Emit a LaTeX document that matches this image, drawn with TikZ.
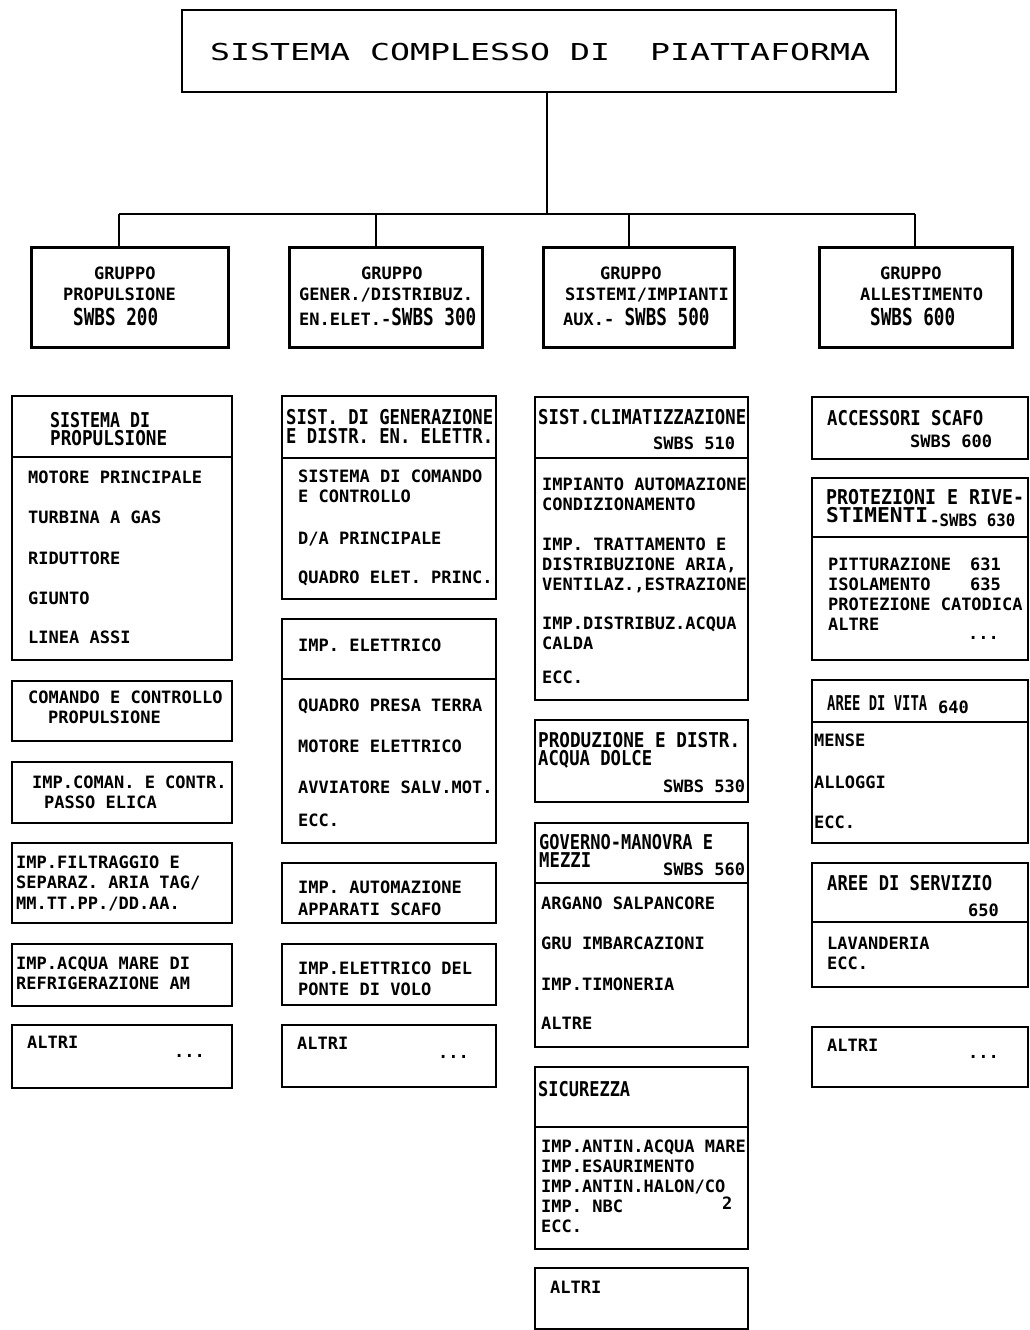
\documentclass[tikz,border=0pt]{standalone}
\usepackage{fontspec}
\usepackage{graphicx}
\newfontfamily\monof{DejaVu Sans Mono}
\newcommand\itf{\monof\bfseries\fontsize{17}{20}\selectfont}
\newcommand\hdw[2]{\resizebox{#1pt}{\height}{\scalebox{1}[1.2]{#2}}}
\newcommand\swbs[1]{\resizebox{85pt}{\height}{\scalebox{1}[1.38]{#1}}}
\newcommand\bx[6][cbox]{\node[#1, minimum width={#4-#3}, minimum height={#6-#5}] (#2) at (#3,#5) {};}
\newcommand\tx[5][it]{\node[#1] (#2) at (#3,#4) {#5};}
\tikzset{
  cbox/.style={draw, line width=1.8pt, inner sep=0, outer sep=0, anchor=north west},
  gbox/.style={draw, line width=3pt, inner sep=0, outer sep=0, anchor=north west},
  tbox/.style={draw, line width=2.4pt, inner sep=0, outer sep=0, anchor=north west},
  it/.style={anchor=base west, inner sep=0, yshift=-6.2pt, font=\itf},
  hd/.style={anchor=base west, inner sep=0, yshift=-7.45pt, font=\itf},
  sw/.style={anchor=base west, inner sep=0, yshift=-8.5pt, font=\itf},
  dv/.style={line width=1.8pt},
  conn/.style={line width=1.8pt},
}
\begin{document}
\begin{tikzpicture}[x=1pt,y=-1pt]
\useasboundingbox (0,0) rectangle (1029,1330);
% top
\bx[tbox]{top}{182}{896}{10}{92}
\node[anchor=base west, inner sep=0] (title) at (210,60.5) {\resizebox{660pt}{\height}{\monof\fontsize{23.3}{28}\selectfont SISTEMA COMPLESSO DI\ \ PIATTAFORMA}};
% groups
\bx[gbox]{g1}{31}{228}{247}{347}
\bx[gbox]{g2}{289}{482}{247}{347}
\bx[gbox]{g3}{543}{734}{247}{347}
\bx[gbox]{g4}{819}{1012}{247}{347}
\coordinate (j) at (547,214);
\coordinate (b1) at (119,214);
\coordinate (b2) at (376,214);
\coordinate (b3) at (629,214);
\coordinate (b4) at (915,214);
\draw[conn] (top.south -| j) -- (j);
\draw[conn] (b1) -- (b4);
\draw[conn] (b1) -- (b1 |- g1.north);
\draw[conn] (b2) -- (b2 |- g2.north);
\draw[conn] (b3) -- (b3 |- g3.north);
\draw[conn] (b4) -- (b4 |- g4.north);
\tx{g1a}{94}{273}{GRUPPO}
\tx{g1b}{63}{294}{PROPULSIONE}
\tx[sw]{g1c}{73}{317}{\swbs{SWBS 200}}
\tx{g2a}{361}{273}{GRUPPO}
\tx{g2b}{299}{294}{GENER./DISTRIBUZ.}
\tx[sw]{g2c}{299}{317}{EN.ELET.-\swbs{SWBS 300}}
\tx{g3a}{600}{273}{GRUPPO}
\tx{g3b}{565}{294}{SISTEMI/IMPIANTI}
\tx[sw]{g3c}{563}{317}{AUX.-\ \swbs{SWBS 500}}
\tx{g4a}{880}{273}{GRUPPO}
\tx{g4b}{860}{294}{ALLESTIMENTO}
\tx[sw]{g4c}{870}{317}{\swbs{SWBS 600}}
% column 1
\bx{A1}{12}{232}{396}{660}
\draw[dv] (12,457) -- (232,457);
\tx[hd]{a1h1}{50}{420}{\hdw{100}{SISTEMA DI}}
\tx[hd]{a1h2}{50}{438}{\hdw{117}{PROPULSIONE}}
\tx{a1i1}{28}{477}{MOTORE PRINCIPALE}
\tx{a1i2}{28}{517}{TURBINA A GAS}
\tx{a1i3}{28}{558}{RIDUTTORE}
\tx{a1i4}{28}{598}{GIUNTO}
\tx{a1i5}{28}{637}{LINEA ASSI}
\bx{A2}{12}{232}{681}{741}
\tx{a2i1}{28}{697}{COMANDO E CONTROLLO}
\tx{a2i2}{48}{717}{PROPULSIONE}
\bx{A3}{12}{232}{762}{823}
\tx{a3i1}{32}{782}{IMP.COMAN. E CONTR.}
\tx{a3i2}{44}{802}{PASSO ELICA}
\bx{A4}{12}{232}{843}{923}
\tx{a4i1}{16}{862}{IMP.FILTRAGGIO E}
\tx{a4i2}{16}{882}{SEPARAZ. ARIA TAG/}
\tx{a4i3}{16}{903}{MM.TT.PP./DD.AA.}
\bx{A5}{12}{232}{944}{1006}
\tx{a5i1}{16}{963}{IMP.ACQUA MARE DI}
\tx{a5i2}{16}{983}{REFRIGERAZIONE AM}
\bx{A6}{12}{232}{1025}{1088}
\tx{a6i1}{27}{1042}{ALTRI}
\tx[it]{a6d}{174}{1051}{...}
% column 2
\bx{B1}{282}{496}{396}{599}
\draw[dv] (282,458) -- (496,458);
\tx[hd]{b1h1}{286}{417}{\hdw{207}{SIST. DI GENERAZIONE}}
\tx[hd]{b1h2}{286}{436}{\hdw{207}{E DISTR. EN. ELETTR.}}
\tx{b1i1}{298}{476}{SISTEMA DI COMANDO}
\tx{b1i2}{298}{496}{E CONTROLLO}
\tx{b1i3}{298}{538}{D/A PRINCIPALE}
\tx{b1i4}{298}{577}{QUADRO ELET. PRINC.}
\bx{B2}{282}{496}{619}{843}
\draw[dv] (282,679) -- (496,679);
\tx{b2h}{298}{645}{IMP. ELETTRICO}
\tx{b2i1}{298}{705}{QUADRO PRESA TERRA}
\tx{b2i2}{298}{746}{MOTORE ELETTRICO}
\tx{b2i3}{298}{787}{AVVIATORE SALV.MOT.}
\tx{b2i4}{298}{820}{ECC.}
\bx{B3}{282}{496}{863}{923}
\tx{b3i1}{298}{887}{IMP. AUTOMAZIONE}
\tx{b3i2}{298}{909}{APPARATI SCAFO}
\bx{B4}{282}{496}{944}{1005}
\tx{b4i1}{298}{968}{IMP.ELETTRICO DEL}
\tx{b4i2}{298}{989}{PONTE DI VOLO}
\bx{B5}{282}{496}{1025}{1087}
\tx{b5i1}{297}{1043}{ALTRI}
\tx[it]{b5d}{438}{1052}{...}
% column 3
\bx{C1}{535}{748}{397}{700}
\draw[dv] (535,458) -- (748,458);
\tx[hd]{c1h1}{538}{417}{\hdw{208}{SIST.CLIMATIZZAZIONE}}
\tx{c1h2}{653}{443}{SWBS 510}
\tx{c1i1}{542}{484}{IMPIANTO AUTOMAZIONE}
\tx{c1i2}{542}{504}{CONDIZIONAMENTO}
\tx{c1i3}{542}{544}{IMP. TRATTAMENTO E}
\tx{c1i4}{542}{564}{DISTRIBUZIONE ARIA,}
\tx{c1i5}{542}{584}{VENTILAZ.,ESTRAZIONE}
\tx{c1i6}{542}{623}{IMP.DISTRIBUZ.ACQUA}
\tx{c1i7}{542}{643}{CALDA}
\tx{c1i8}{542}{677}{ECC.}
\bx{C2}{535}{748}{720}{802}
\tx[hd]{c2h1}{538}{740}{\hdw{202}{PRODUZIONE E DISTR.}}
\tx[hd]{c2h2}{538}{758}{\hdw{114}{ACQUA DOLCE}}
\tx{c2h3}{663}{786}{SWBS 530}
\bx{C3}{535}{748}{823}{1047}
\draw[dv] (535,883) -- (748,883);
\tx[hd]{c3h1}{539}{842}{\hdw{174}{GOVERNO-MANOVRA E}}
\tx[hd]{c3h2}{539}{860}{\hdw{52}{MEZZI}}
\tx{c3h3}{663}{869}{SWBS 560}
\tx{c3i1}{541}{903}{ARGANO SALPANCORE}
\tx{c3i2}{541}{943}{GRU IMBARCAZIONI}
\tx{c3i3}{541}{984}{IMP.TIMONERIA}
\tx{c3i4}{541}{1023}{ALTRE}
\bx{C4}{535}{748}{1067}{1249}
\draw[dv] (535,1127) -- (748,1127);
\tx[hd]{c4h}{538}{1089}{\hdw{92}{SICUREZZA}}
\tx{c4i1}{541}{1146}{IMP.ANTIN.ACQUA MARE}
\tx{c4i2}{541}{1166}{IMP.ESAURIMENTO}
\tx{c4i3}{541}{1186}{IMP.ANTIN.HALON/CO}
\tx{c4i4}{541}{1206}{IMP. NBC}
\tx{c4i5}{541}{1226}{ECC.}
\tx{c4s}{722}{1203}{2}
\bx{C5}{535}{748}{1268}{1329}
\tx{c5i1}{550}{1287}{ALTRI}
% column 4
\bx{D1}{812}{1028}{397}{459}
\tx[hd]{d1h1}{827}{418}{\hdw{156}{ACCESSORI SCAFO}}
\tx{d1h2}{910}{441}{SWBS 600}
\bx{D2}{812}{1028}{478}{660}
\draw[dv] (812,537) -- (1028,537);
\tx[hd]{d2h1}{826}{497}{\hdw{198}{PROTEZIONI E RIVE-}}
\tx[hd]{d2h2}{826}{515}{\hdw{102}{STIMENTI}}
\tx{d2h3}{930}{520}{\resizebox{85pt}{\height}{-SWBS 630}}
\tx{d2i1}{828}{564}{PITTURAZIONE}
\tx{d2n1}{970}{564}{631}
\tx{d2i2}{828}{584}{ISOLAMENTO}
\tx{d2n2}{970}{584}{635}
\tx{d2i3}{828}{604}{PROTEZIONE CATODICA}
\tx{d2i4}{828}{624}{ALTRE}
\tx[it]{d2d}{968}{633}{...}
\bx{D3}{812}{1028}{680}{843}
\draw[dv] (812,722) -- (1028,722);
\tx[hd]{d3h1}{827}{703}{\hdw{100}{AREE DI VITA}}
\tx{d3h2}{938}{707}{640}
\tx{d3i1}{814}{740}{MENSE}
\tx{d3i2}{814}{782}{ALLOGGI}
\tx{d3i3}{814}{822}{ECC.}
\bx{D4}{812}{1028}{863}{987}
\draw[dv] (812,922) -- (1028,922);
\tx[hd]{d4h1}{827}{883}{\hdw{165}{AREE DI SERVIZIO}}
\tx{d4h2}{968}{910}{650}
\tx{d4i1}{827}{943}{LAVANDERIA}
\tx{d4i2}{827}{963}{ECC.}
\bx{D5}{812}{1028}{1027}{1087}
\tx{d5i1}{827}{1045}{ALTRI}
\tx[it]{d5d}{968}{1052}{...}
\end{tikzpicture}
\end{document}
